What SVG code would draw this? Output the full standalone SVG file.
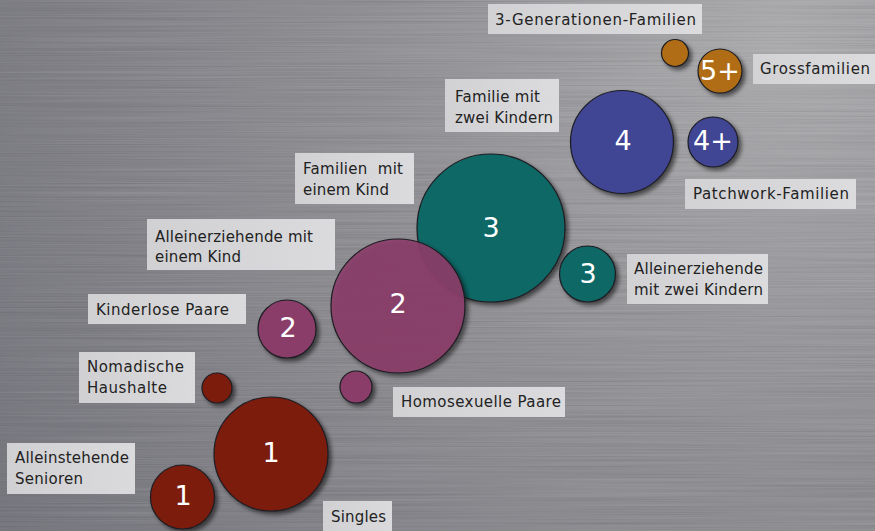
<svg xmlns="http://www.w3.org/2000/svg" width="875" height="531" viewBox="0 0 875 531">
<defs>
  <radialGradient id="bg" cx="780" cy="40" r="900" gradientUnits="userSpaceOnUse">
    <stop offset="0" stop-color="#a4a4a8"/>
    <stop offset="0.45" stop-color="#808086"/>
    <stop offset="1" stop-color="#5c5c66"/>
  </radialGradient>
  <filter id="brush" x="0" y="0" width="100%" height="100%">
    <feTurbulence type="fractalNoise" baseFrequency="0.004 0.8" numOctaves="2" seed="5" result="n"/>
    <feColorMatrix in="n" type="matrix" values="0.33 0.33 0.33 0 0  0.33 0.33 0.33 0 0  0.33 0.33 0.33 0 0  0 0 0 0 0.28"/>
  </filter>
  <filter id="shadow" x="-30%" y="-30%" width="170%" height="170%">
    <feDropShadow dx="3" dy="3" stdDeviation="2" flood-color="#000" flood-opacity="0.55"/>
  </filter>
  <linearGradient id="box" x1="0" y1="0" x2="1" y2="0">
    <stop offset="0" stop-color="#d4d4d6"/>
    <stop offset="1" stop-color="#dedee0"/>
  </linearGradient>
</defs>
<style>
  .c { stroke: #1c1c22; stroke-width: 1.2; filter: url(#shadow); }
  .red { fill: #7c1a0f; }
  .pink { fill: #8b3e69; }
  .teal { fill: #0d6766; }
  .blue { fill: #3f4494; }
  .orange { fill: #b06d12; }
  .num { font-family: "DejaVu Sans", "Liberation Sans", sans-serif; font-size: 27px; fill: #ffffff; text-anchor: middle; }
  .lb { fill: url(#box); opacity: 0.96; }
  .t { font-family: "DejaVu Sans", "Liberation Sans", sans-serif; font-size: 15px; fill: #222222; white-space: pre; }
</style>
<rect x="0" y="0" width="875" height="531" fill="url(#bg)"/>
<rect x="0" y="0" width="875" height="531" filter="url(#brush)"/>
<g id="connectors"/>

<g id="drei-generationen">
  <circle class="c orange" cx="675" cy="53" r="13.5"/>
  <rect class="lb" x="488" y="4" width="214" height="30"/>
  <text class="t" x="495" y="25" textLength="201">3-Generationen-Familien</text>
</g>
<g id="grossfamilien">
  <circle class="c orange" cx="720" cy="71" r="22"/>
  <text class="num" x="720" y="80">5+</text>
  <rect class="lb" x="753" y="54" width="122" height="30"/>
  <text class="t" x="760" y="74" textLength="110">Grossfamilien</text>
</g>
<g id="familie-zwei-kinder">
  <circle class="c blue" cx="622" cy="142" r="51.5"/>
  <text class="num" x="623" y="150">4</text>
  <rect class="lb" x="445" y="79" width="114" height="53"/>
  <text class="t" x="455" y="102" textLength="85">Familie mit</text>
  <text class="t" x="455" y="123" textLength="98">zwei Kindern</text>
</g>
<g id="patchwork">
  <circle class="c blue" cx="713" cy="142" r="25"/>
  <text class="num" x="713" y="150">4+</text>
  <rect class="lb" x="685" y="179" width="171" height="30"/>
  <text class="t" x="693" y="199" textLength="156">Patchwork-Familien</text>
</g>
<g id="familien-ein-kind">
  <circle class="c teal" cx="491" cy="228" r="74"/>
  <text class="num" x="491" y="237">3</text>
  <rect class="lb" x="295" y="153" width="119" height="51"/>
  <text class="t" x="303" y="174" textLength="100">Familien  mit</text>
  <text class="t" x="303" y="195" textLength="86">einem Kind</text>
</g>
<g id="alleinerziehende-zwei">
  <circle class="c teal" cx="587.5" cy="274" r="28"/>
  <text class="num" x="588" y="283">3</text>
  <rect class="lb" x="627" y="254" width="141" height="50"/>
  <text class="t" x="634" y="274" textLength="129">Alleinerziehende</text>
  <text class="t" x="634" y="295" textLength="129">mit zwei Kindern</text>
</g>
<g id="alleinerziehende-ein">
  <circle class="c pink" cx="398" cy="306" r="67" fill-opacity="0.9"/>
  <text class="num" x="398" y="313">2</text>
  <rect class="lb" x="147" y="219" width="188" height="51"/>
  <text class="t" x="155" y="242" textLength="158">Alleinerziehende mit</text>
  <text class="t" x="155" y="262" textLength="86">einem Kind</text>
</g>
<g id="kinderlose-paare">
  <circle class="c pink" cx="287" cy="329" r="29"/>
  <text class="num" x="288" y="337">2</text>
  <rect class="lb" x="88" y="294" width="158" height="30"/>
  <text class="t" x="96" y="315" textLength="133">Kinderlose Paare</text>
</g>
<g id="homosexuelle-paare">
  <circle class="c pink" cx="356" cy="387" r="16"/>
  <rect class="lb" x="393" y="387" width="172" height="30"/>
  <text class="t" x="401" y="407" textLength="160">Homosexuelle Paare</text>
</g>
<g id="nomadische-haushalte">
  <circle class="c red" cx="217" cy="388" r="15"/>
  <rect class="lb" x="79" y="352" width="116" height="51"/>
  <text class="t" x="87" y="372" textLength="97">Nomadische</text>
  <text class="t" x="87" y="393" textLength="80">Haushalte</text>
</g>
<g id="singles">
  <circle class="c red" cx="271" cy="454" r="57"/>
  <text class="num" x="271" y="462">1</text>
  <rect class="lb" x="323" y="501" width="69" height="32"/>
  <text class="t" x="331" y="522" textLength="55">Singles</text>
</g>
<g id="alleinstehende-senioren">
  <circle class="c red" cx="182.5" cy="497" r="32"/>
  <text class="num" x="183" y="505">1</text>
  <rect class="lb" x="7" y="443" width="128" height="51"/>
  <text class="t" x="15" y="463" textLength="114">Alleinstehende</text>
  <text class="t" x="15" y="484" textLength="68">Senioren</text>
</g>
</svg>
